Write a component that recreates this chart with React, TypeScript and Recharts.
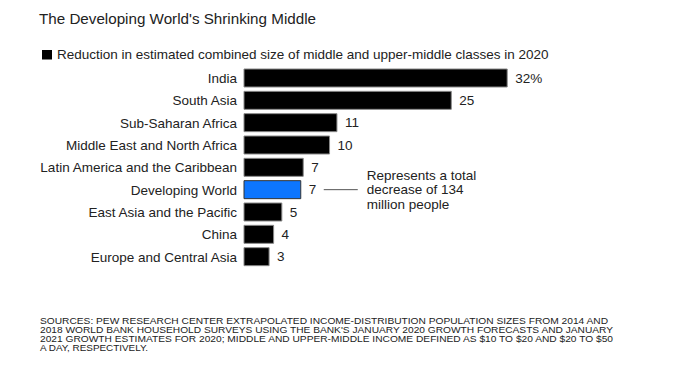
import { BarChart, Bar, XAxis, YAxis, Cell, LabelList } from 'recharts'

const FONT = '"Liberation Sans", Arial, Helvetica, sans-serif'
const TEXT = '#222'
const FS = 13.5

// 地域名と中間層の縮小率（%）
const regions = [
  'India',
  'South Asia',
  'Sub-Saharan Africa',
  'Middle East and North Africa',
  'Latin America and the Caribbean',
  'Developing World',
  'East Asia and the Pacific',
  'China',
  'Europe and Central Asia',
]
const reduction = [32, 25.2, 11.3, 10.4, 7.2, 6.9, 4.6, 3.6, 3.05]
const highlight = 'Developing World'
const note = ['Represents a total', 'decrease of 134', 'million people']

const footnote = [
  'SOURCES: PEW RESEARCH CENTER EXTRAPOLATED INCOME-DISTRIBUTION POPULATION SIZES FROM 2014 AND',
  "2018 WORLD BANK HOUSEHOLD SURVEYS USING THE BANK'S JANUARY 2020 GROWTH FORECASTS AND JANUARY",
  '2021 GROWTH ESTIMATES FOR 2020; MIDDLE AND UPPER-MIDDLE INCOME DEFINED AS $10 TO $20 AND $20 TO $50',
  'A DAY, RESPECTIVELY.',
]
const footnoteWidths = [568, 573, 573, 108]

const data = regions.map((name, i) => ({ name, value: reduction[i] }))

function ValueLabel(props: any) {
  const { x, y, width, height, value, index } = props
  const ex = Number(x) + Number(width)
  const cy = Number(y) + Number(height) / 2
  const text = index === 0 ? `${Math.round(value)}%` : `${Math.round(value)}`
  const isNote = data[index]?.name === highlight
  return (
    <g>
      <text x={ex + 8} y={cy} dy="0.355em" fill={TEXT} fontSize={FS} fontFamily={FONT}>
        {text}
      </text>
      {isNote && (
        <g>
          <line x1={ex + 23} x2={ex + 57} y1={cy} y2={cy} stroke="#555" strokeWidth={1} />
          {note.map((t, k) => (
            <text
              key={k}
              x={ex + 66}
              y={cy + (k - 1) * 14.5}
              dy="0.355em"
              fill={TEXT}
              fontSize={FS}
              fontFamily={FONT}
            >
              {t}
            </text>
          ))}
        </g>
      )}
    </g>
  )
}

export default function App() {
  return (
    <div style={{ position: 'absolute', left: 0, top: 0, width: 700, height: 378, background: '#fff', fontFamily: FONT }}>
      <svg width={700} height={378} style={{ position: 'absolute', left: 0, top: 0 }}>
        <text x={39} y={24} fontSize={15.2} fill={TEXT} fontFamily={FONT}>
          The Developing World's Shrinking Middle
        </text>
        <rect x={42} y={50} width={10} height={9.5} fill="#000" />
        <text x={57} y={59} fontSize={FS} fill={TEXT} fontFamily={FONT}>
          Reduction in estimated combined size of middle and upper-middle classes in 2020
        </text>
        {footnote.map((line, i) => (
          <text
            key={i}
            x={40}
            y={323.5 + i * 9.2}
            fontSize={9}
            fill={TEXT}
            fontFamily={FONT}
            textLength={footnoteWidths[i]}
            lengthAdjust="spacingAndGlyphs"
          >
            {line}
          </text>
        ))}
      </svg>
      <div style={{ position: 'absolute', left: 0, top: 0 }}>
        <BarChart
          width={700}
          height={280}
          data={data}
          layout="vertical"
          margin={{ top: 67, right: 127, bottom: 12, left: 0 }}
          barSize={18}
        >
          <XAxis type="number" hide domain={[0, 40]} />
          <YAxis
            type="category"
            dataKey="name"
            width={244}
            tickLine={false}
            axisLine={false}
            tickSize={0}
            tickMargin={7}
            interval={0}
            tick={{ fill: TEXT, fontSize: FS, fontFamily: FONT }}
          />
          <Bar dataKey="value" isAnimationActive={false}>
            {data.map((d, i) => (
              <Cell
                key={i}
                fill={d.name === highlight ? '#0d76ff' : '#000'}
                stroke={d.name === highlight ? '#333' : '#888'}
                strokeWidth={1}
              />
            ))}
            <LabelList dataKey="value" content={ValueLabel} />
          </Bar>
        </BarChart>
      </div>
    </div>
  )
}
